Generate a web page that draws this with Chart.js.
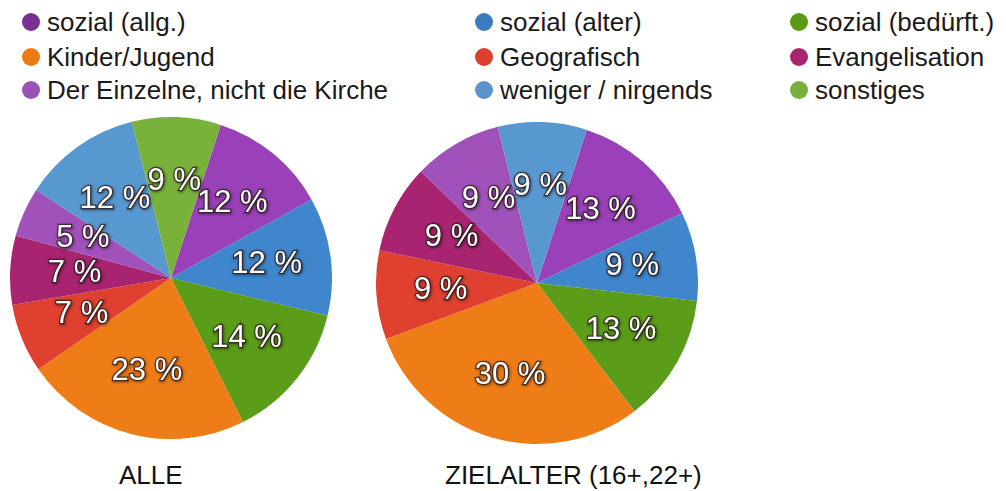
<!DOCTYPE html>
<html>
<head>
<meta charset="utf-8">
<script src="https://cdn.jsdelivr.net/npm/chart.js@4/dist/chart.umd.min.js"></script>
<style>
  html, body { margin:0; padding:0; background:#fff; width:1006px; height:491px; overflow:hidden; font-family:'Liberation Sans', Arial, sans-serif; }
  .legend-item { position:absolute; font-size:26px; color:#1a1a1a; white-space:nowrap; line-height:30px; }
  .legend-item .dot { position:absolute; left:-25px; top:6px; width:18px; height:18px; border-radius:50%; }
  .pie-box { position:absolute; width:322px; height:322px; }
  .caption { position:absolute; font-size:26px; color:#111; white-space:nowrap; top:460px; }
</style>
</head>
<body>
<div id="legend"></div>
<div class="pie-box" style="left:10px; top:117px;"><canvas id="pie-alle"></canvas></div>
<div class="pie-box" style="left:376px; top:122px;"><canvas id="pie-ziel"></canvas></div>
<div class="caption" style="left:119px;" id="cap-alle"></div>
<div class="caption" style="left:445px;" id="cap-ziel"></div>

<script>
// Kategorien (Reihenfolge im Uhrzeigersinn ab oben)
const kategorien = ['sozial (allg.)', 'sozial (alter)', 'sozial (bedürft.)', 'Kinder/Jugend', 'Geografisch', 'Evangelisation', 'Der Einzelne, nicht die Kirche', 'weniger / nirgends', 'sonstiges'];
const werteAlle = [12, 12, 14, 23, 7, 7, 5, 12, 9];
const werteZiel = [13, 9, 13, 30, 9, 9, 9, 9, 0];
const titel = ['ALLE', 'ZIELALTER (16+,22+)'];

const legendFarben = ['#7b2d96', '#3b7bbf', '#5b9a12', '#ee7a14', '#dc3e2f', '#a8246e', '#9b52b5', '#5b93cc', '#78b03c'];
const sliceFarben  = ['#9a40b8', '#3f86cc', '#5b9d18', '#ef7d17', '#df402f', '#a82470', '#a052ba', '#5898d0', '#79b23b'];

// Legende: 3 Spalten, 3 Zeilen
const legCols = [47, 500, 815];
const legRows = [7, 42, 75];
const legendEl = document.getElementById('legend');
kategorien.forEach((k, i) => {
    const d = document.createElement('div');
    d.className = 'legend-item';
    const r = Math.floor(i / 3); const c = i % 3;
    d.style.left = legCols[c] + 'px';
    d.style.top = legRows[r] + 'px';
    d.innerHTML = `<span class="dot" style="background:${legendFarben[i]}"></span>${k}`;
    legendEl.appendChild(d);
});
document.getElementById('cap-alle').innerText = titel[0];
document.getElementById('cap-ziel').innerText = titel[1];

const labelPlugin = {
    id: 'sliceLabels',
    afterDatasetsDraw(chart) {
        const ctx = chart.ctx;
        const meta = chart.getDatasetMeta(0);
        const data = chart.data.datasets[0].data;
        ctx.save();
        ctx.font = '31px "Liberation Sans", Arial, sans-serif';
        ctx.textAlign = 'center'; ctx.textBaseline = 'middle';
        meta.data.forEach((arc, i) => {
            if (!data[i]) return;
            const p = arc.getProps(['x','y','startAngle','endAngle','outerRadius'], true);
            const mid = (p.startAngle + p.endAngle) / 2;
            const rr = p.outerRadius * 0.6;
            const x = p.x + Math.cos(mid) * rr, y = p.y + Math.sin(mid) * rr;
            const txt = data[i] + ' %';
            ctx.shadowColor = 'rgba(0,0,0,0.6)'; ctx.shadowBlur = 3; ctx.shadowOffsetX = 1; ctx.shadowOffsetY = 1;
            ctx.lineWidth = 2.5; ctx.strokeStyle = 'rgba(50,30,30,0.75)';
            ctx.strokeText(txt, x, y);
            ctx.shadowColor = 'transparent';
            ctx.fillStyle = '#ffffff';
            ctx.fillText(txt, x, y);
        });
        ctx.restore();
    }
};

function makePie(id, werte) {
    return new Chart(document.getElementById(id), {
        type: 'pie',
        data: { labels: kategorien, datasets: [{ data: werte, backgroundColor: sliceFarben, borderWidth: 0 }] },
        options: {
            responsive: true, maintainAspectRatio: false, animation: false,
            rotation: 18,
            layout: { padding: 0 },
            plugins: { legend: { display: false }, tooltip: { enabled: false } }
        },
        plugins: [labelPlugin]
    });
}
makePie('pie-alle', werteAlle);
makePie('pie-ziel', werteZiel);
</script>
</body>
</html>
